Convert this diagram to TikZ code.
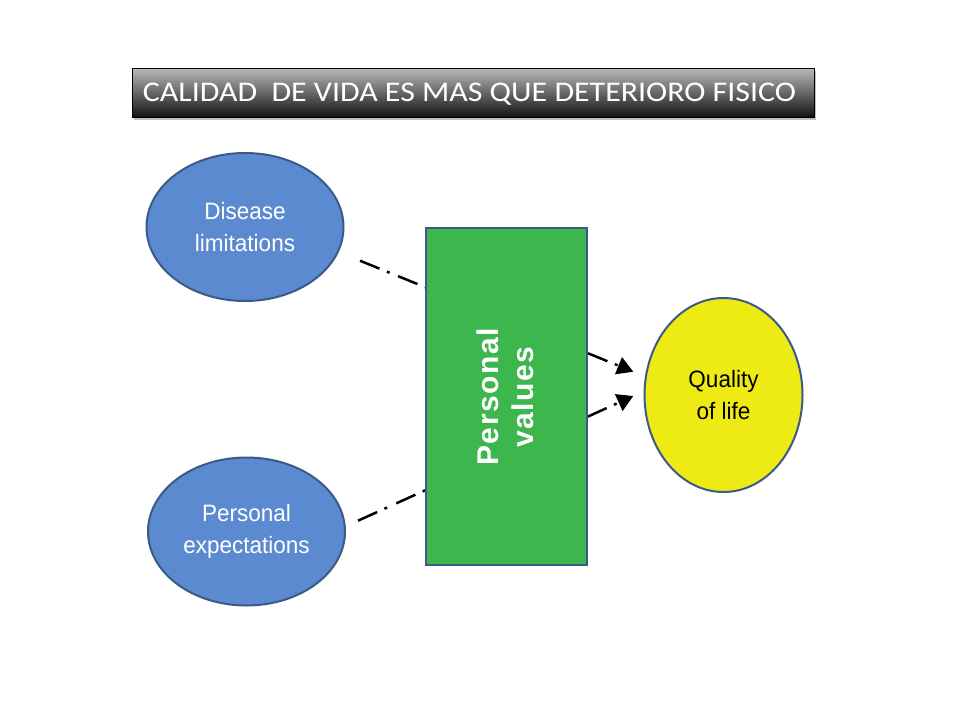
\documentclass[tikz,border=0pt]{standalone}
\usepackage{fontspec}
\setmainfont{Liberation Sans}
\newfontfamily\titlefont[FakeStretch=1.12]{Carlito}
\newfontfamily\ellfont[FakeStretch=0.95]{Liberation Sans}
\newfontfamily\pvfont[LetterSpace=5]{Liberation Sans}
\usetikzlibrary{arrows.meta,shapes.geometric,shadows,calc}
\definecolor{ellblue}{RGB}{91,138,208}
\definecolor{edgeblue}{RGB}{60,90,135}
\definecolor{boxgreen}{RGB}{60,182,77}
\definecolor{qolyellow}{RGB}{238,234,20}
\definecolor{titletop}{RGB}{185,185,185}
\definecolor{titlebot}{RGB}{18,18,18}
\pgfdeclarelayer{back}
\pgfdeclarelayer{bg}
\pgfsetlayers{back,bg,main}
\tikzset{
  ellnode/.style={ellipse, draw=edgeblue, line width=2pt, fill=ellblue, inner sep=0pt,
    minimum width=197pt, minimum height=148pt, text=white, align=center,
    font=\ellfont\fontsize{23.7}{32}\selectfont},
  qolnode/.style={ellipse, draw=edgeblue, line width=2pt, fill=qolyellow, inner sep=0pt,
    minimum width=158pt, minimum height=194pt, text=black, align=center,
    font=\ellfont\fontsize{23.7}{32}\selectfont},
  pvbox/.style={rectangle, draw=edgeblue, line width=2pt, fill=boxgreen, inner sep=0pt,
    minimum width=161pt, minimum height=337pt},
  titlebox/.style={rectangle, draw=black, line width=1pt, top color=titletop, bottom color=titlebot,
    minimum width=682pt, minimum height=49pt, inner sep=0pt,
    drop shadow={shadow xshift=1pt, shadow yshift=-3pt, opacity=0.25, fill=black}},
  conn/.style={line width=2.5pt, -{Triangle[length=16pt,width=18pt]}},
  conntop/.style={conn, dash pattern=on 21pt off 8pt on 3pt off 9pt},
  connbot/.style={conn, dash pattern=on 21pt off 8pt on 3pt off 10pt},
}
\begin{document}
\begin{tikzpicture}[x=1pt,y=-1pt]
\useasboundingbox (0,0) rectangle (960,720);
\begin{pgfonlayer}{back}
\fill[white] (0,0) rectangle (960,720);
\end{pgfonlayer}

\node[titlebox] (title) at (473.5,92.8) {};
\node[anchor=base west, inner sep=0pt, text=white, font=\titlefont\fontsize{28.5}{34}\selectfont]
  (titletext) at (142.7,101.7) {CALIDAD\ \ DE VIDA ES MAS QUE DETERIORO FISICO};

\node[ellnode] (dis) at (245,227) {Disease\\limitations};
\node[ellnode] (pe) at (246.5,531.5) {Personal\\expectations};
\node[qolnode] (qol) at (723.5,395) {Quality\\of life};
\node[pvbox] (pv) at (506.5,396.5) {};
\node[rotate=90, inner sep=0pt, text=white, align=center,
  font=\pvfont\bfseries\fontsize{30}{35}\selectfont] (pvtext) at (505,397) {Personal\\values};

\path (dis.center) ++(115,33.7) coordinate (dis-out);
\path (pe.center) ++(111.5,-10.8) coordinate (pe-out);
\path (qol.center) ++(-90.2,-23.3) coordinate (qol-in1);
\path (qol.center) ++(-90.2,1) coordinate (qol-in2);

\begin{pgfonlayer}{bg}
\draw[conntop] (dis-out) -- (qol-in1);
\draw[connbot] (pe-out) -- (qol-in2);
\end{pgfonlayer}
\end{tikzpicture}
\end{document}
